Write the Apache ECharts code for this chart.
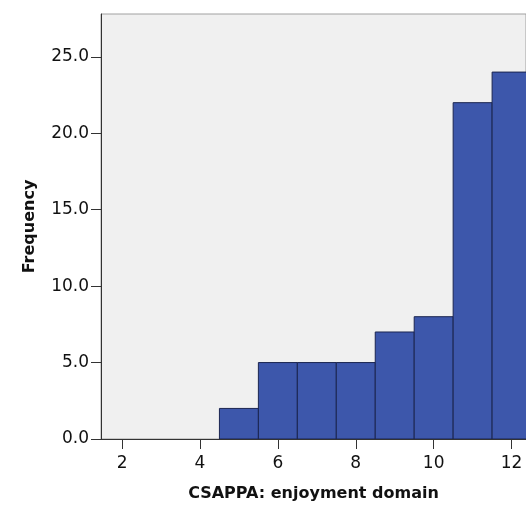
<!DOCTYPE html>
<html><head><meta charset="utf-8">
<script src="https://cdn.jsdelivr.net/npm/echarts@6/dist/echarts.min.js"></script>
<style>html,body{margin:0;padding:0;background:#fff}#c{width:526px;height:505px}</style>
</head><body><div id="c"></div>
<script>
const binStarts = [4.5, 5.5, 6.5, 7.5, 8.5, 9.5, 10.5, 11.5];
const binEnds   = [5.5, 6.5, 7.5, 8.5, 9.5, 10.5, 11.5, 12.5];
const counts    = [2, 5, 5, 5, 7, 8, 22, 24];
const xTicks = [2, 4, 6, 8, 10, 12];
const yTicks = [0, 5, 10, 15, 20, 25];

const data = binStarts.map((s, i) => [s, binEnds[i], counts[i]]);
const chart = echarts.init(document.getElementById('c'));
const font = 'DejaVu Sans';
chart.setOption({
  animation: false,
  grid: {left: 101, top: 14, right: 0, bottom: 66, show: true, backgroundColor: '#f0f0f0', borderColor: '#a0a0a0', borderWidth: 1, containLabel: false, outerBoundsMode: 'none'},
  xAxis: {
    type: 'value', min: 1.46, max: 12.37, interval: 2,
    name: 'CSAPPA: enjoyment domain', nameLocation: 'middle', nameGap: 47,
    nameTextStyle: {fontFamily: font, fontWeight: 'bold', fontSize: 16, color: '#111'},
    axisLine: {show: true, lineStyle: {color: '#333', width: 1}},
    axisTick: {show: true, length: 10, lineStyle: {color: '#333'}, customValues: xTicks},
    axisLabel: {fontFamily: font, fontSize: 17, color: '#111', margin: 16, customValues: xTicks, showMinLabel: true, showMaxLabel: true},
    splitLine: {show: false}
  },
  yAxis: {
    type: 'value', min: 0, max: 27.8, interval: 5,
    name: 'Frequency', nameLocation: 'middle', nameGap: 63,
    nameTextStyle: {fontFamily: font, fontWeight: 'bold', fontSize: 16, color: '#111'},
    axisLine: {show: true, lineStyle: {color: '#333', width: 1}},
    axisTick: {show: true, length: 10, lineStyle: {color: '#333'}, customValues: yTicks},
    axisLabel: {fontFamily: font, fontSize: 17, color: '#111', margin: 12, customValues: yTicks, formatter: v => v.toFixed(1)},
    splitLine: {show: false}
  },
  series: [{
    type: 'custom',
    data: data,
    encode: {x: [0, 1], y: 2},
    renderItem: function (params, api) {
      const p0 = api.coord([api.value(0), 0]);
      const p1 = api.coord([api.value(1), api.value(2)]);
      return {
        type: 'rect',
        shape: {x: p0[0], y: p1[1], width: p1[0] - p0[0], height: p0[1] - p1[1]},
        style: {fill: '#3d57ab', stroke: '#1b2550', lineWidth: 1}
      };
    },
    clip: true
  }]
});
</script></body></html>
